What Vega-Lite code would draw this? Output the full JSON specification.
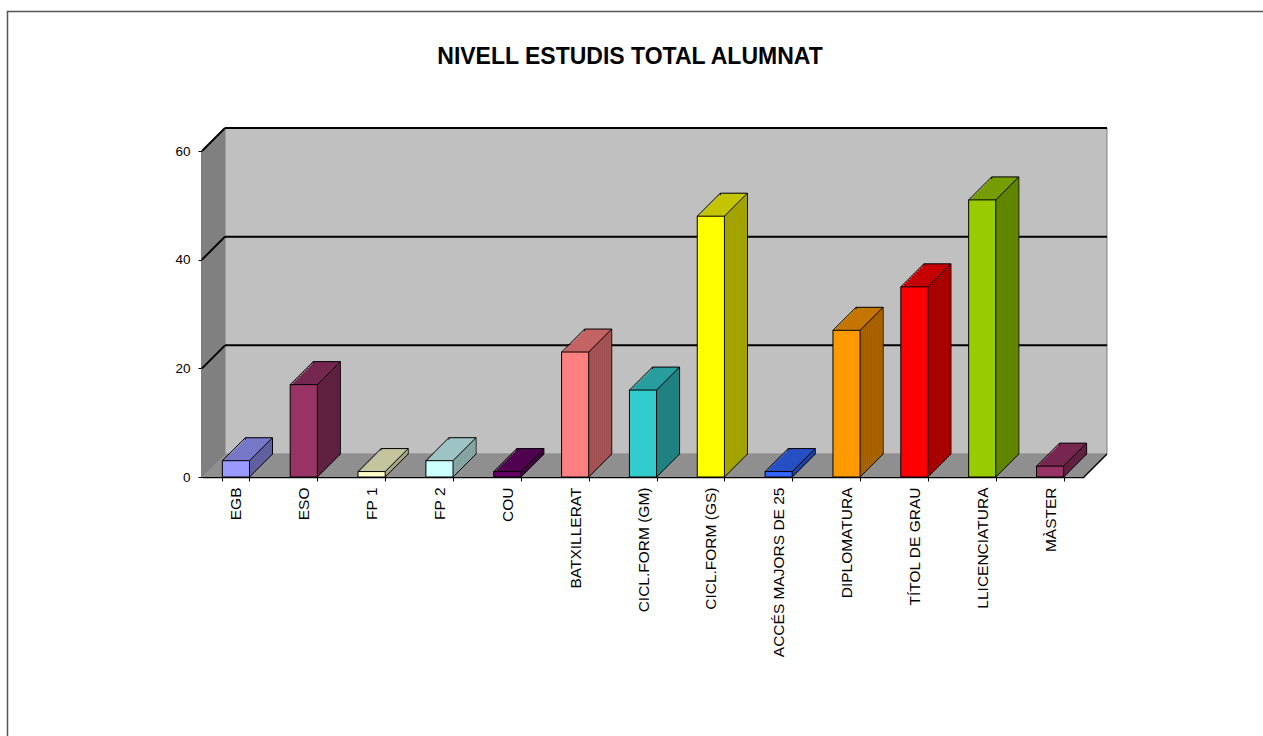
{
  "$schema": "https://vega.github.io/schema/vega-lite/v6.json",
  "width": 882,
  "height": 326,
  "autosize": "none",
  "padding": {"left": 202, "top": 151, "right": 179, "bottom": 259},
  "background": "white",
  "title": {"text": "NIVELL ESTUDIS TOTAL ALUMNAT", "font": "Liberation Sans", "fontSize": 23, "fontWeight": "bold", "color": "black", "anchor": "middle", "frame": "group", "offset": 0, "dy": 58, "dx": -13},
  "config": {
    "view": {"stroke": null},
    "font": "Liberation Sans",
    "axisX": {"domainColor": "#000", "domainWidth": 1.5, "tickColor": "#000", "tickSize": 4, "labelFontSize": 15.5, "labelColor": "#000", "labelPadding": 6, "grid": false, "labelLimit": 400, "zindex": 1},
    "axisY": {"domainColor": "#000", "domainWidth": 2, "tickColor": "#000", "tickSize": 4, "labelFontSize": 13.5, "labelColor": "#000", "labelPadding": 8, "grid": false, "zindex": 1}
  },
  "layer": [
    {
      "data": {"values": [{}]},
      "mark": {"type": "rect", "fillOpacity": 0, "stroke": "#555555", "strokeWidth": 1.5},
      "encoding": {"x": {"value": -194.5}, "x2": {"value": 1200}, "y": {"value": -139.5}, "y2": {"value": 700}}
    },
    {
      "data": {"values": [{}]},
      "mark": {"type": "rect", "fill": "#c0c0c0", "stroke": "#808080", "strokeWidth": 1, "yOffset": -23, "y2Offset": -23},
      "encoding": {"x": {"value": 23}, "x2": {"value": 905}, "y": {"datum": 60, "type": "quantitative", "title": null}, "y2": {"datum": 0}}
    },
    {
      "data": {"values": [{}]},
      "mark": {"type": "rect", "fill": "#8f8f8f", "y2Offset": -23},
      "encoding": {"x": {"value": 0}, "x2": {"value": 905}, "y": {"datum": 0, "type": "quantitative", "title": null}, "y2": {"datum": 0}}
    },
    {
      "data": {"values": [{}]},
      "mark": {"type": "rect", "fill": "#808080", "yOffset": -23},
      "encoding": {"x": {"value": 0}, "x2": {"value": 23}, "y": {"datum": 60, "type": "quantitative", "title": null}, "y2": {"datum": 0}}
    },
    {
      "data": {"values": [{}]},
      "mark": {"type": "point", "shape": "M0,0L0,-1L1,-1Z", "size": 2116, "filled": true, "color": "white", "opacity": 1, "strokeWidth": 0},
      "encoding": {"x": {"value": 0}, "y": {"datum": 60, "type": "quantitative", "title": null}}
    },
    {
      "data": {"values": [{}]},
      "mark": {"type": "point", "shape": "M0,0L1,-1L1,0Z", "size": 2116, "filled": true, "color": "#8f8f8f", "opacity": 1, "strokeWidth": 0},
      "encoding": {"x": {"value": 0}, "y": {"datum": 0, "type": "quantitative", "title": null}}
    },
    {
      "data": {"values": [{}]},
      "mark": {"type": "point", "shape": "M0,0L1,-1L1,0Z", "size": 2116, "filled": true, "color": "white", "opacity": 1, "strokeWidth": 0},
      "encoding": {"x": {"value": 882}, "y": {"datum": 0, "type": "quantitative", "title": null}}
    },
    {
      "data": {"values": [{}]},
      "mark": {"type": "point", "shape": "M0,0L1,-1", "size": 2116, "filled": false, "color": "#000", "opacity": 1, "strokeWidth": 1.5},
      "encoding": {"x": {"value": 882}, "y": {"datum": 0, "type": "quantitative", "title": null}}
    },
    {
      "data": {"values": [{"v": 20}, {"v": 40}, {"v": 60}]},
      "mark": {"type": "rule", "color": "#000", "strokeWidth": 2, "yOffset": -23},
      "encoding": {"x": {"value": 23}, "x2": {"value": 905}, "y": {"field": "v", "type": "quantitative", "title": null}}
    },
    {
      "data": {"values": [{"v": 20}, {"v": 40}, {"v": 60}]},
      "mark": {"type": "point", "shape": "M0,0L1,-1", "size": 2116, "filled": false, "color": "#000", "opacity": 1, "strokeWidth": 2},
      "encoding": {"x": {"value": 0}, "y": {"field": "v", "type": "quantitative", "title": null}}
    },
    {
      "data": {"values": [
        {"cat": "EGB", "value": 3},
        {"cat": "ESO", "value": 17},
        {"cat": "FP 1", "value": 1},
        {"cat": "FP 2", "value": 3},
        {"cat": "COU", "value": 1},
        {"cat": "BATXILLERAT", "value": 23},
        {"cat": "CICL.FORM (GM)", "value": 16},
        {"cat": "CICL.FORM (GS)", "value": 48},
        {"cat": "ACCÉS MAJORS DE 25", "value": 1},
        {"cat": "DIPLOMATURA", "value": 27},
        {"cat": "TÍTOL DE GRAU", "value": 35},
        {"cat": "LLICENCIATURA", "value": 51},
        {"cat": "MÀSTER", "value": 2}
      ]},
      "encoding": {
        "x": {"field": "cat", "type": "nominal", "sort": null, "title": null, "scale": {"paddingInner": 0.6, "paddingOuter": 0.3}, "axis": {"tickBand": "extent", "labelAngle": -90, "labelAlign": "right", "labelBaseline": "middle"}},
        "y": {"field": "value", "type": "quantitative", "title": null, "scale": {"domain": [0, 60], "nice": false}, "axis": {"values": [0, 20, 40, 60]}}
      },
      "layer": [
        {
          "encoding": {"fill": {"field": "cat", "type": "nominal", "sort": null, "legend": null, "scale": {"domain": ["EGB","ESO","FP 1","FP 2","COU","BATXILLERAT","CICL.FORM (GM)","CICL.FORM (GS)","ACCÉS MAJORS DE 25","DIPLOMATURA","TÍTOL DE GRAU","LLICENCIATURA","MÀSTER"], "range": ["#7878c8","#76274f","#c4c49d","#9dc4c4","#4f004f","#c46363","#279d9d","#c4c400","#274fc4","#c47600","#c40000","#769d00","#76274f"]}}},
          "layer": [
            {"mark": {"type": "bar", "xOffset": 23, "yOffset": -23, "y2Offset": -23, "stroke": "#000", "strokeWidth": 1}},
            {"mark": {"type": "bar", "xOffset": 21, "yOffset": -21, "y2Offset": -21}},
            {"mark": {"type": "bar", "xOffset": 19, "yOffset": -19, "y2Offset": -19}},
            {"mark": {"type": "bar", "xOffset": 17, "yOffset": -17, "y2Offset": -17}},
            {"mark": {"type": "bar", "xOffset": 15, "yOffset": -15, "y2Offset": -15}},
            {"mark": {"type": "bar", "xOffset": 13, "yOffset": -13, "y2Offset": -13}},
            {"mark": {"type": "bar", "xOffset": 11, "yOffset": -11, "y2Offset": -11}},
            {"mark": {"type": "bar", "xOffset": 9, "yOffset": -9, "y2Offset": -9}},
            {"mark": {"type": "bar", "xOffset": 7, "yOffset": -7, "y2Offset": -7}},
            {"mark": {"type": "bar", "xOffset": 5, "yOffset": -5, "y2Offset": -5}},
            {"mark": {"type": "bar", "xOffset": 3, "yOffset": -3, "y2Offset": -3}},
            {"mark": {"type": "bar", "xOffset": 1, "yOffset": -1, "y2Offset": -1}}
          ]
        },
        {
          "encoding": {
            "y2": {"datum": 0},
            "stroke": {"field": "cat", "type": "nominal", "sort": null, "legend": null, "scale": {"domain": ["EGB","ESO","FP 1","FP 2","COU","BATXILLERAT","CICL.FORM (GM)","CICL.FORM (GS)","ACCÉS MAJORS DE 25","DIPLOMATURA","TÍTOL DE GRAU","LLICENCIATURA","MÀSTER"], "range": ["#6060a1","#602040","#a1a181","#81a1a1","#400040","#a15151","#208181","#a1a100","#2040a1","#a16000","#a10000","#608100","#602040"]}}
          },
          "layer": [
            {"mark": {"type": "rule", "strokeWidth": 2, "xOffset": 15.07, "yOffset": -1.5, "y2Offset": -1.5}},
            {"mark": {"type": "rule", "strokeWidth": 2, "xOffset": 17.07, "yOffset": -3.5, "y2Offset": -3.5}},
            {"mark": {"type": "rule", "strokeWidth": 2, "xOffset": 19.07, "yOffset": -5.5, "y2Offset": -5.5}},
            {"mark": {"type": "rule", "strokeWidth": 2, "xOffset": 21.07, "yOffset": -7.5, "y2Offset": -7.5}},
            {"mark": {"type": "rule", "strokeWidth": 2, "xOffset": 23.07, "yOffset": -9.5, "y2Offset": -9.5}},
            {"mark": {"type": "rule", "strokeWidth": 2, "xOffset": 25.07, "yOffset": -11.5, "y2Offset": -11.5}},
            {"mark": {"type": "rule", "strokeWidth": 2, "xOffset": 27.07, "yOffset": -13.5, "y2Offset": -13.5}},
            {"mark": {"type": "rule", "strokeWidth": 2, "xOffset": 29.07, "yOffset": -15.5, "y2Offset": -15.5}},
            {"mark": {"type": "rule", "strokeWidth": 2, "xOffset": 31.07, "yOffset": -17.5, "y2Offset": -17.5}},
            {"mark": {"type": "rule", "strokeWidth": 2, "xOffset": 33.07, "yOffset": -19.5, "y2Offset": -19.5}},
            {"mark": {"type": "rule", "strokeWidth": 2, "xOffset": 35.07, "yOffset": -21.5, "y2Offset": -21.5}}
          ]
        },
        {
          "mark": {"type": "bar", "stroke": "#000", "strokeWidth": 1},
          "encoding": {"color": {"field": "cat", "type": "nominal", "sort": null, "legend": null, "scale": {"domain": ["EGB","ESO","FP 1","FP 2","COU","BATXILLERAT","CICL.FORM (GM)","CICL.FORM (GS)","ACCÉS MAJORS DE 25","DIPLOMATURA","TÍTOL DE GRAU","LLICENCIATURA","MÀSTER"], "range": ["#9999ff","#993366","#ffffcc","#ccffff","#660066","#ff8080","#33cccc","#ffff00","#3366ff","#ff9900","#ff0000","#99cc00","#993366"]}}}
        },
        {
          "mark": {"type": "point", "shape": "M-0.59,0L0.41,-1M0.59,0L1.59,-1", "size": 2116, "filled": false, "color": "#000", "opacity": 1, "strokeWidth": 1}
        },
        {
          "mark": {"type": "point", "shape": "M0.59,0L1.59,-1", "size": 2116, "filled": false, "color": "#000", "opacity": 1, "strokeWidth": 1},
          "encoding": {"y": {"datum": 0, "type": "quantitative", "title": null}}
        }
      ]
    }
  ]
}
